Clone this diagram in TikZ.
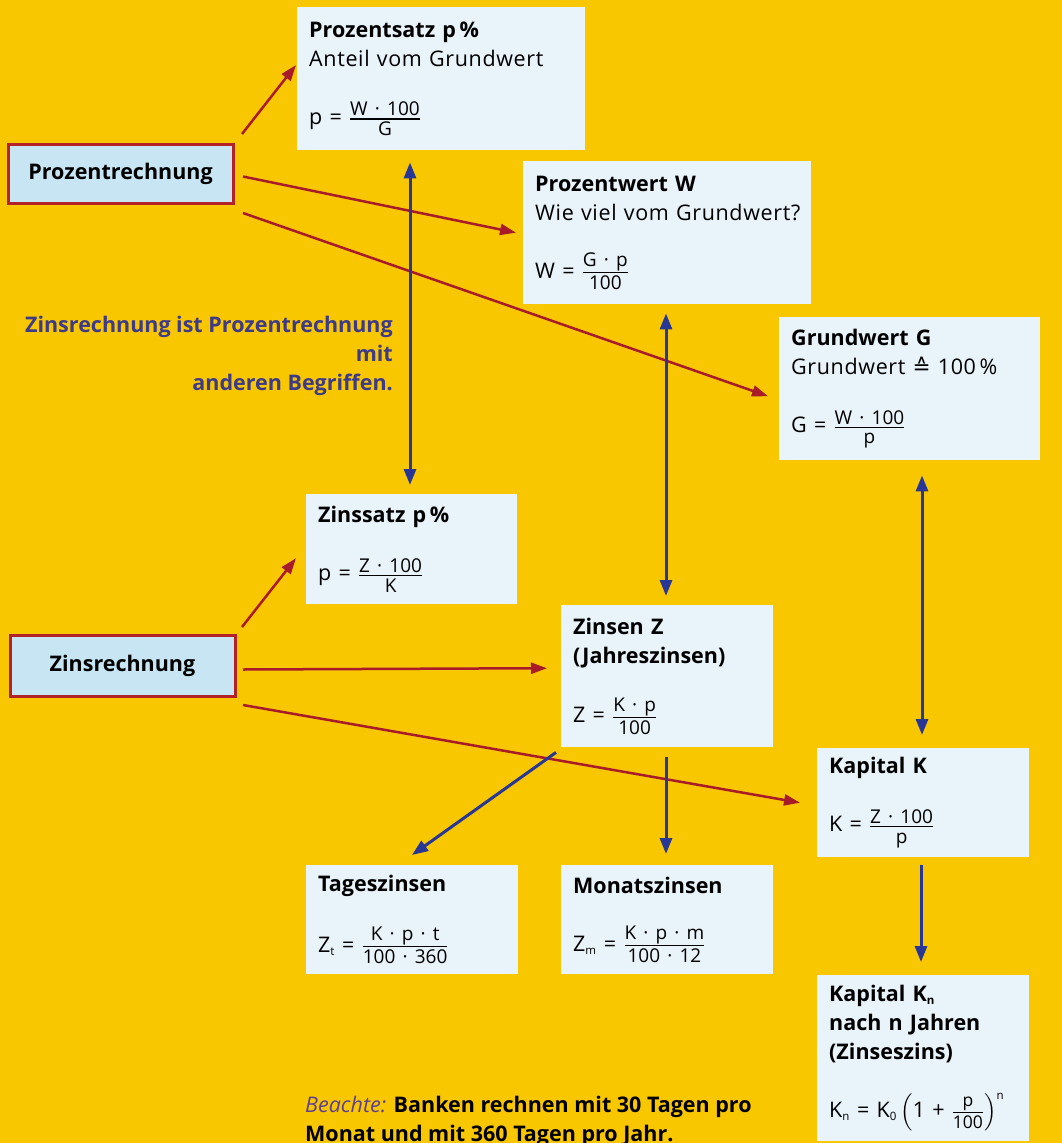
\documentclass[tikz,border=0pt]{standalone}
\usepackage{amsmath}
\usepackage{fontspec}
\setmainfont{Open Sans}
\newfontfamily\weit[LetterSpace=3]{Open Sans}
\newfontfamily\symbolfont{DejaVu Sans}
\usepackage{tikz}
\usetikzlibrary{arrows.meta, calc}
\definecolor{hintergrund}{RGB}{249, 199, 0}
\definecolor{kastenblau}{RGB}{233, 243, 250}
\definecolor{hauptblau}{RGB}{200, 229, 243}
\definecolor{kastenrot}{RGB}{178, 34, 40}
\definecolor{pfeilrot}{RGB}{168, 28, 42}
\definecolor{pfeilblau}{RGB}{40, 55, 150}
\definecolor{notizblau}{RGB}{62, 58, 138}
\definecolor{beachtelila}{RGB}{92, 62, 150}
% Bruch mit etwas kleinerer Schrift
\newcommand{\klein}[1]{\hbox{\fontsize{19}{20}\selectfont #1}}
\newcommand{\bruch}[2]{$\genfrac{}{}{1.1pt}{}{\klein{#1}}{\klein{\rule{0pt}{15pt}#2}}$}
\newcommand{\tief}[1]{$_{\hbox{\fontsize{11.5}{12}\selectfont #1}}$}

\begin{document}
\begin{tikzpicture}[x=1pt, y=-1pt,
    formel/.style={fill=kastenblau, anchor=north west, align=left,
        inner xsep=12pt, inner ysep=0pt,
        font=\fontsize{21.5}{29}\selectfont},
    haupt/.style={fill=hauptblau, draw=kastenrot, line width=3pt,
        anchor=north west, inner sep=0pt,
        font=\bfseries\fontsize{21.5}{29}\selectfont},
    rotpfeil/.style={draw=pfeilrot, line width=2.5pt,
        -{Triangle[length=16pt,width=11pt]}},
    blaupfeil/.style={draw=pfeilblau, line width=3pt,
        -{Triangle[length=16pt,width=12pt]}},
    doppelpfeil/.style={blaupfeil,
        {Triangle[length=16pt,width=12pt]}-{Triangle[length=16pt,width=12pt]}}]

    % Hintergrund
    \fill[hintergrund] (0,0) rectangle (1062,1143);
    \useasboundingbox (0,0) rectangle (1062,1143);

    % Prozentrechnung
    \node[haupt, minimum width=225pt, minimum height=59pt] (prozent)
        at (6.5,142.5) {Prozentrechnung};
    \node[formel, text width=264pt, minimum height=143pt] (satz) at (297,7)
        {\textbf{Prozentsatz p\,\%}\\ {\weit Anteil vom Grundwert}\\[29pt]
         p = \bruch{W · 100}{G}};
    \node[formel, text width=264pt, minimum height=143pt] (wert) at (523,161)
        {\textbf{Prozentwert W}\\ {\weit Wie viel vom Grundwert?}\\[29pt]
         W = \bruch{G · p}{100}};
    \node[formel, text width=237pt, minimum height=143pt] (grund) at (779,317)
        {\textbf{Grundwert G}\\ {\weit Grundwert} {\symbolfont ≙} {\weit 100\,\%}\\[29pt]
         G = \bruch{W · 100}{p}};

    % Zinsrechnung
    \node[haupt, minimum width=225pt, minimum height=61pt] (zins)
        at (8.5,633.5) {Zinsrechnung};
    \node[formel, text width=187pt, minimum height=110pt] (zsatz) at (306,494)
        {\textbf{Zinssatz p\,\%}\\[29pt]
         p = \bruch{Z · 100}{K}};
    \node[formel, text width=188pt, minimum height=142pt] (zinsen) at (561,605)
        {\textbf{Zinsen Z}\\ \textbf{(Jahreszinsen)}\\[29pt]
         Z = \bruch{K · p}{100}};
    \node[formel, text width=188pt, minimum height=109pt] (kap) at (817,748)
        {\textbf{Kapital K}\\[29pt]
         K = \bruch{Z · 100}{p}};
    \node[formel, text width=188pt, minimum height=109pt] (tag) at (306,865)
        {\textbf{Tageszinsen}\\[29pt]
         Z\tief{t} = \bruch{K · p · t}{100 · 360}};
    \node[formel, text width=188pt, minimum height=109pt] (monat) at (561,865)
        {\textbf{Monatszinsen}\\[29pt]
         Z\tief{m} = \bruch{K · p · m}{100 · 12}};
    \node[formel, text width=188pt, minimum height=166pt] (kapn) at (817,975)
        {\textbf{Kapital K\tief{n}}\\ \textbf{nach n Jahren}\\
         \textbf{(Zinseszins)}\\[29pt]
         K\tief{n} = K\tief{0}\,$\left(\text{1 + }\genfrac{}{}{1.1pt}{}{\hbox{\fontsize{17.5}{18}\selectfont p}}{\hbox{\fontsize{17.5}{18}\selectfont\rule{0pt}{14pt}100}}\right)^{\hbox{\fontsize{11.5}{12}\selectfont n}}$};

    % Hinweise
    \node[anchor=north east, align=right, inner sep=0pt, text=notizblau,
          font=\bfseries\fontsize{21.5}{29}\selectfont] (hinweis) at (393,316)
        {Zinsrechnung ist Prozentrechnung\\ mit\\ anderen Begriffen.};
    \node[anchor=north west, align=left, inner sep=0pt,
          font=\bfseries\fontsize{21.5}{28.5}\selectfont] (beachte) at (305,1096)
        {{\mdseries\itshape\color{beachtelila}Beachte:} Banken rechnen mit 30 Tagen pro\\
         Monat und mit 360 Tagen pro Jahr.};

    % rote Pfeile
    \draw[rotpfeil] ($(prozent.north east)+(7.5,-8.5)$) -- ($(satz.north west)+(-1,58)$);
    \draw[rotpfeil] ($(prozent.east)+(8.5,3)$) -- ($(wert.west)+(-7,0)$);
    \draw[rotpfeil] ($(prozent.south east)+(8.5,8.5)$) -- ($(grund.west)+(-11,7.5)$);
    \draw[rotpfeil] ($(zins.north east)+(5.5,-6.5)$) -- ($(zsatz.west)+(-10,9)$);
    \draw[rotpfeil] ($(zins.east)+(6.5,4)$) -- ($(zinsen.west)+(-14,-8)$);
    \draw[rotpfeil] ($(zins.south east)+(6.5,7.5)$) -- ($(kap.west)+(-17,0)$);

    % blaue Pfeile
    \draw[doppelpfeil] ($(satz.south west)+(113,12)$) -- ($(zsatz.north west)+(104,-9)$);
    \draw[doppelpfeil] ($(wert.south west)+(143,9)$) -- ($(zinsen.north west)+(105,-9)$);
    \draw[doppelpfeil] ($(grund.south west)+(143,15)$) -- ($(kap.north west)+(105,-13)$);
    \draw[blaupfeil] ($(zinsen.south west)+(-5,5)$) -- ($(tag.north west)+(106,-10)$);
    \draw[blaupfeil] ($(zinsen.south west)+(105,10)$) -- ($(monat.north west)+(105,-11)$);
    \draw[blaupfeil] ($(kap.south west)+(104,8)$) -- ($(kapn.north west)+(104,-13)$);
\end{tikzpicture}
\end{document}
